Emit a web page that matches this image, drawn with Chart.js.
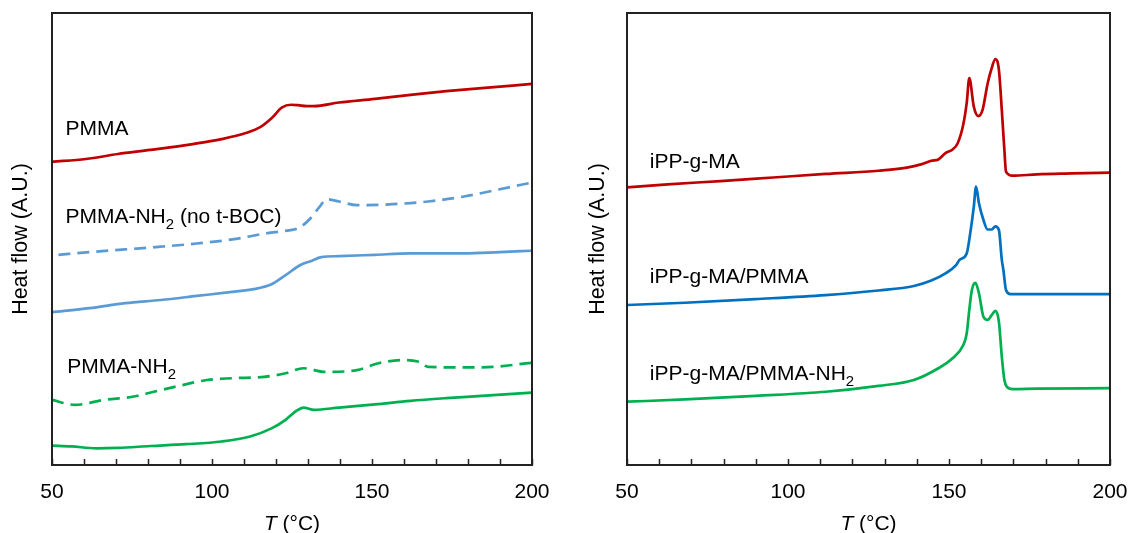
<!DOCTYPE html>
<html>
<head>
<meta charset="utf-8">
<script src="https://cdn.jsdelivr.net/npm/chart.js@4.4.1/dist/chart.umd.min.js"></script>
<style>
  html, body { margin: 0; padding: 0; background: #fff; }
  #wrap { position: relative; width: 1131px; height: 533px; overflow: hidden; }
  canvas { position: absolute; top: 0; }
  #left { left: 0; }
  #right { left: 566px; }
</style>
</head>
<body>
<div id="wrap">
  <canvas id="left" width="566" height="533"></canvas>
  <canvas id="right" width="565" height="533"></canvas>
</div>
<script>
// ================= DATA =================
const xTicks = [50, 60, 70, 80, 90, 100, 110, 120, 130, 140, 150, 160, 170, 180, 190, 200];

// left panel: PMMA family (arbitrary units, stacked)
const pmmaT  = [50, 60.6, 70.6, 80.7, 94, 103, 110.8, 115.2, 118.6, 121.9, 124.7, 126.9, 129.7, 131.9, 139.7, 150.9, 162, 173.2, 184.3, 200];
const pmmaHF = [67.1, 67.7, 68.8, 69.7, 71.0, 72.1, 73.5, 74.8, 76.7, 79.1, 79.7, 79.6, 79.4, 79.4, 80.2, 81.0, 81.9, 82.7, 83.4, 84.3];

const noBocT  = [52, 61.7, 72.9, 84, 95.2, 106.3, 117.4, 123, 127.5, 130.8, 133.6, 135.8, 139.7, 145.3, 156.5, 167.6, 178.8, 189.9, 200];
const noBocHF = [46.5, 47.1, 47.7, 48.3, 49.0, 49.9, 51.3, 51.8, 52.6, 54.6, 57.1, 58.8, 58.3, 57.5, 57.7, 58.3, 59.4, 61.0, 62.5];

const nh2BocT  = [50, 61.7, 72.9, 84, 95.2, 106.3, 113, 118.6, 123, 127.5, 130.8, 134.2, 139.7, 150.9, 162, 178.8, 189.9, 200];
const nh2BocHF = [33.8, 34.7, 35.8, 36.5, 37.4, 38.3, 38.9, 40.0, 42.0, 44.2, 45.1, 46.0, 46.2, 46.5, 46.8, 46.8, 47.1, 47.4];

const nh2DashT  = [50, 57.2, 66.2, 75.1, 81.8, 89.6, 98.5, 106.3, 116.3, 123, 128.6, 135.3, 145.3, 152, 159.8, 164.3, 167.6, 178.8, 184.3, 200];
const nh2DashHF = [14.4, 13.3, 14.4, 15.1, 16.2, 17.5, 18.8, 19.2, 19.5, 20.3, 21.4, 20.6, 21.0, 22.5, 23.2, 22.9, 21.7, 21.6, 21.6, 22.6];

const nh2T  = [50, 56.1, 63.9, 70.6, 80.7, 91.8, 103, 111.9, 118.6, 123, 126.4, 128.6, 131.9, 139.7, 150.9, 162, 173.2, 184.3, 200];
const nh2HF = [4.3, 4.1, 3.7, 3.8, 4.2, 4.6, 5.2, 6.3, 8.1, 10.0, 12.0, 12.7, 12.2, 12.7, 13.4, 14.2, 14.8, 15.3, 16.0];

// right panel: iPP-g-MA blends
const ippT  = [50, 62.6, 79, 95.4, 111.7, 128.1, 136.9, 141.3, 144.5, 146.7, 148.9, 151.1, 152.7, 154.4, 155.5, 156.3, 157.7, 159.1, 160.4, 162, 163.1, 164.4, 165.5, 166.4, 167.2, 167.7, 169.7, 177.3, 188.3, 200];
const ippHF = [61.4, 62.1, 62.8, 63.6, 64.4, 65.1, 65.8, 66.5, 67.3, 67.6, 69.0, 69.8, 71.2, 75.2, 80.1, 85.6, 79.3, 77.2, 78.5, 84.4, 87.4, 89.8, 87.4, 78.5, 69.7, 64.9, 64.0, 64.3, 64.5, 64.7];

const ippPmmaT  = [50, 68, 89.9, 111.7, 128.1, 139.1, 144.5, 148.9, 152.2, 153.3, 155.5, 156.6, 157.7, 158.4, 159.3, 160.7, 162, 163.3, 164.4, 165.5, 166.4, 166.9, 167.7, 169.1, 177.3, 200];
const ippPmmaHF = [35.4, 35.9, 36.7, 37.6, 38.6, 39.6, 40.8, 42.4, 44.2, 45.4, 46.8, 51.3, 57.1, 61.6, 57.9, 54.2, 52.1, 52.1, 52.8, 52.0, 45.4, 43.1, 38.7, 37.8, 37.8, 37.8];

const ippNh2T  = [50, 68, 89.9, 111.7, 128.1, 139.1, 146.7, 151.1, 154.4, 155.5, 156.3, 157.1, 158.2, 159.3, 160.7, 162, 163.3, 164.4, 165.5, 166.4, 167.2, 168, 169.7, 177.3, 200];
const ippNh2HF = [14.0, 14.5, 15.3, 16.2, 17.5, 18.8, 21.4, 23.6, 26.5, 29.1, 34.3, 38.7, 40.3, 38.0, 32.8, 32.1, 33.2, 34.1, 31.7, 24.0, 18.8, 17.3, 16.8, 16.9, 17.0];

// in-plot labels: [main, subscript, rest], anchored at (T, heat flow)
const leftLabels = [
    { parts: ["PMMA"], at: [54.2, 73.0] },
    { parts: ["PMMA-NH", "2", " (no t-BOC)"], at: [54.2, 53.5] },
    { parts: ["PMMA-NH", "2"], at: [54.8, 20.4] }
];
const rightLabels = [
    { parts: ["iPP-g-MA"], at: [57.1, 65.7] },
    { parts: ["iPP-g-MA/PMMA"], at: [57.1, 40.3] },
    { parts: ["iPP-g-MA/PMMA-NH", "2"], at: [57.1, 18.8] }
];

const FONT = "'Liberation Sans', Arial, sans-serif";

function pairs(xs, ys) {
    return xs.map((x, i) => ({ x: x, y: ys[i] }));
}

function line(xs, ys, color, dashed) {
    return {
        data: pairs(xs, ys),
        borderColor: color,
        borderWidth: 2.7,
        borderDash: dashed ? [12, 7] : [],
        pointRadius: 0,
        fill: false,
        cubicInterpolationMode: "monotone"
    };
}

// ================= PLUGIN: frame, inner ticks, labels, x title =================
const decorPlugin = {
    id: "decor",
    afterDatasetsDraw(chart, args, opts) {
        const ctx = chart.ctx;
        const a = chart.chartArea;
        const xs = chart.scales.x;
        const ys = chart.scales.y;
        ctx.save();

        // frame
        ctx.strokeStyle = "#222";
        ctx.lineWidth = 2;
        ctx.strokeRect(a.left, a.top, a.right - a.left, a.bottom - a.top);

        // inner ticks on bottom axis
        ctx.lineWidth = 1.5;
        xTicks.forEach(v => {
            const px = Math.round(xs.getPixelForValue(v)) + 0.5;
            ctx.beginPath();
            ctx.moveTo(px, a.bottom);
            ctx.lineTo(px, a.bottom - 6);
            ctx.stroke();
        });

        // curve labels
        ctx.fillStyle = "#000";
        ctx.textBaseline = "alphabetic";
        ctx.textAlign = "left";
        (opts.labels || []).forEach(l => {
            let px = xs.getPixelForValue(l.at[0]);
            const py = ys.getPixelForValue(l.at[1]);
            l.parts.forEach((t, i) => {
                const sub = i === 1;
                ctx.font = (sub ? "15px " : "21px ") + FONT;
                ctx.fillText(t, px, sub ? py + 6 : py);
                px += ctx.measureText(t).width;
            });
        });

        // x title: italic T (°C)
        const cx = (a.left + a.right) / 2;
        const ty = 530;
        ctx.font = "italic 21px " + FONT;
        const w1 = ctx.measureText("T").width;
        ctx.font = "21px " + FONT;
        const w2 = ctx.measureText(" (°C)").width;
        let sx = cx - (w1 + w2) / 2;
        ctx.font = "italic 21px " + FONT;
        ctx.fillText("T", sx, ty);
        ctx.font = "21px " + FONT;
        ctx.fillText(" (°C)", sx + w1, ty);

        ctx.restore();
    }
};

function makeChart(id, datasets, labels, padLeft, padRight, yWidth) {
    return new Chart(document.getElementById(id), {
        type: "line",
        data: { datasets: datasets },
        plugins: [decorPlugin],
        options: {
            responsive: false,
            animation: false,
            devicePixelRatio: 1,
            layout: { padding: { top: 13, left: padLeft, right: padRight, bottom: 0 } },
            plugins: {
                legend: { display: false },
                tooltip: { enabled: false },
                decor: { labels: labels }
            },
            scales: {
                x: {
                    type: "linear",
                    min: 50,
                    max: 200,
                    afterBuildTicks: scale => {
                        scale.ticks = xTicks.filter(v => v % 50 === 0).map(v => ({ value: v }));
                    },
                    afterFit: scale => {
                        scale.height = 68;
                        scale.paddingLeft = 0;
                        scale.paddingRight = 0;
                    },
                    grid: { display: false, drawTicks: false },
                    border: { display: false },
                    ticks: {
                        color: "#000",
                        padding: 15,
                        maxRotation: 0,
                        font: { family: FONT, size: 21 }
                    }
                },
                y: {
                    min: 0,
                    max: 100,
                    afterFit: scale => { scale.width = yWidth; },
                    grid: { display: false, drawTicks: false },
                    border: { display: false },
                    ticks: { display: false },
                    title: {
                        display: true,
                        text: "Heat flow (A.U.)",
                        color: "#000",
                        padding: { top: 8, bottom: 0 },
                        font: { family: FONT, size: 21.5 }
                    }
                }
            }
        }
    });
}

// ================= INIT =================
makeChart("left", [
    line(pmmaT, pmmaHF, "#c00000", false),
    line(noBocT, noBocHF, "#5b9bd5", true),
    line(nh2BocT, nh2BocHF, "#5b9bd5", false),
    line(nh2DashT, nh2DashHF, "#00b050", true),
    line(nh2T, nh2HF, "#00b050", false)
], leftLabels, 0, 34, 52);

makeChart("right", [
    line(ippT, ippHF, "#c00000", false),
    line(ippPmmaT, ippPmmaHF, "#0070c0", false),
    line(ippNh2T, ippNh2HF, "#00b050", false)
], rightLabels, 11, 21, 50);
</script>
</body>
</html>
